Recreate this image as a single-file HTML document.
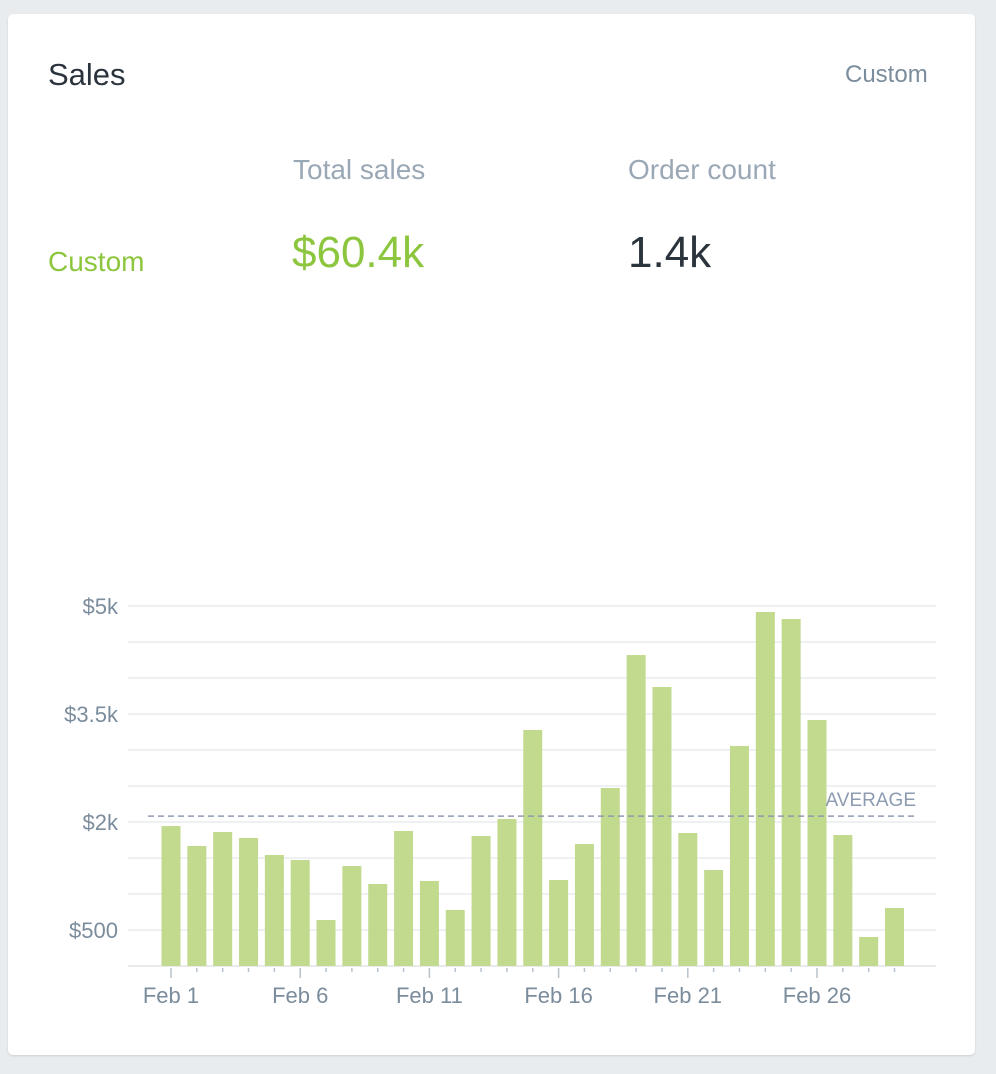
<!DOCTYPE html>
<html><head><meta charset="utf-8"><style>
body{margin:0;background:#e9ecef;width:996px;height:1074px;overflow:hidden;font-family:"Liberation Sans",sans-serif}
.card{position:absolute;left:8px;top:14px;width:967px;height:1041px;background:#fff;border-radius:5px;box-shadow:0 1px 2px rgba(0,0,0,.12)}
.t{position:absolute;white-space:nowrap}
</style></head><body>
<div class="card"></div>
<div class="t" style="left:48px;top:57px;font-size:31px;color:#2b333d">Sales</div>
<div class="t" style="left:845px;top:61px;font-size:24px;color:#7b8c9c">Custom</div>
<div class="t" style="left:293px;top:154px;font-size:28px;color:#9aa8b6">Total sales</div>
<div class="t" style="left:628px;top:154px;font-size:28px;color:#9aa8b6">Order count</div>
<div class="t" style="left:48px;top:246px;font-size:28px;color:#8cc63e">Custom</div>
<div class="t" style="left:292px;top:228px;font-size:44px;color:#8cc63e">$60.4k</div>
<div class="t" style="left:628px;top:228px;font-size:44px;color:#2b333d">1.4k</div>
<svg id="chart" width="996" height="1074" style="position:absolute;left:0;top:0"></svg>
<script>
const days=[1,2,3,4,5,6,7,8,9,10,11,12,13,14,15,16,17,18,19,20,21,22,23,24,25,26,27,28,29];
const sales=[1944,1667,1861,1778,1542,1472,639,1389,1139,1875,1181,778,1806,2042,3278,1194,1694,2472,4319,3875,1847,1333,3056,4917,4819,3417,1819,403,806];
const yTicks=[500,2000,3500,5000];
const yTickLabels=["$500","$2k","$3.5k","$5k"];
const xLabelDays=[1,6,11,16,21,26];
const NS="http://www.w3.org/2000/svg";
const svg=document.getElementById('chart');
const y=v=>966-v*0.072;
const x=d=>171+(d-1)*25.84;
function mk(t,a){const e=document.createElementNS(NS,t);for(const k in a)e.setAttribute(k,a[k]);svg.appendChild(e);return e;}
for(let g=0;g<=5000;g+=500){const l=mk('line',{x1:128,x2:936,y1:y(g),y2:y(g),stroke:g===0?'#e1e4e8':'#e8ebee','stroke-width':1.5});

}
yTicks.forEach((v,i)=>{const t=mk('text',{x:118,y:y(v)+8,'text-anchor':'end','font-size':22,fill:'#7b8c9c'});t.textContent=yTickLabels[i];

});
days.forEach((d,i)=>{const r=mk('rect',{x:x(d)-9.5,y:y(sales[i]),width:19,height:sales[i]*0.072,fill:'#c2da8e'});


const major=xLabelDays.includes(d);
const tk=mk('line',{x1:x(d),x2:x(d),y1:968,y2:major?978:972,stroke:'#b8c2cc','stroke-width':1.5});

});
xLabelDays.forEach(d=>{const t=mk('text',{x:x(d),y:1003,'text-anchor':'middle','font-size':22,fill:'#7b8c9c'});t.textContent='Feb '+d;

});
const avg=sales.reduce((a,b)=>a+b,0)/sales.length;
const al=mk('line',{x1:148,x2:914,y1:y(avg),y2:y(avg),stroke:'#8d9bb0','stroke-width':1.5,'stroke-dasharray':'6,4'});


const at=mk('text',{x:916,y:y(avg)-10,'text-anchor':'end','font-size':19,fill:'#8d9bb0'});at.textContent='AVERAGE';


</script>
</body></html>
